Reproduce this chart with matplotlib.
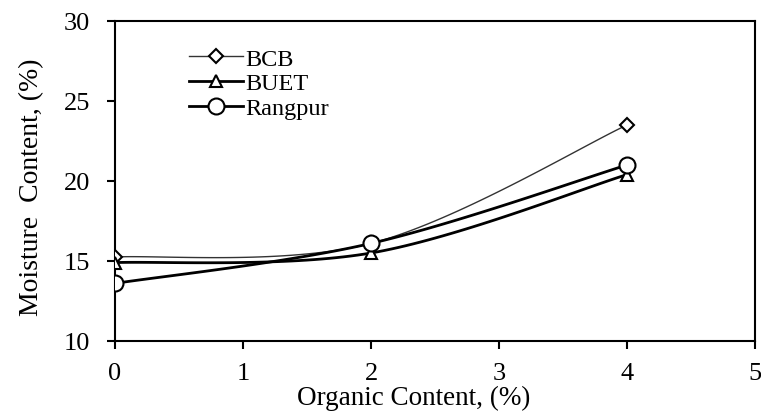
import numpy as np
import matplotlib
matplotlib.use("Agg")
from matplotlib import pyplot as plt

organic = [0, 2, 4]
bcb = [15.25, 16.1, 23.5]
buet = [14.9, 15.5, 20.4]
rangpur = [13.6, 16.1, 21.0]


def smooth(x, y, steps=40):
    # cubic bezier through points, spreadsheet-style smoothing
    x = np.asarray(x, float)
    y = np.asarray(y, float)
    px, py = [], []
    n = len(x)
    for i in range(n - 1):
        x0, y0 = (x[i - 1], y[i - 1]) if i > 0 else (x[i], y[i])
        x3, y3 = (x[i + 2], y[i + 2]) if i + 2 < n else (x[i + 1], y[i + 1])
        c1x = x[i] + (x[i + 1] - x0) / 6
        c1y = y[i] + (y[i + 1] - y0) / 6
        c2x = x[i + 1] - (x3 - x[i]) / 6
        c2y = y[i + 1] - (y3 - y[i]) / 6
        t = np.linspace(0, 1, steps)
        px.extend((1 - t) ** 3 * x[i] + 3 * (1 - t) ** 2 * t * c1x + 3 * (1 - t) * t ** 2 * c2x + t ** 3 * x[i + 1])
        py.extend((1 - t) ** 3 * y[i] + 3 * (1 - t) ** 2 * t * c1y + 3 * (1 - t) * t ** 2 * c2y + t ** 3 * y[i + 1])
    return px, py


plt.rcParams["font.family"] = ["Liberation Serif", "DejaVu Serif"]

fig = plt.figure(figsize=(7.61, 4.14), dpi=100)
ax = fig.add_axes([115 / 761, 72 / 414, 640 / 761, 320 / 414])

series = [
    (bcb, "BCB", "D", 7, 1.0, "#333333"),
    (buet, "BUET", "^", 9, 2.0, "black"),
    (rangpur, "Rangpur", "o", 11.5, 2.0, "black"),
]
handles = []
for vals, name, mk, ms, lw, col in series:
    sx, sy = smooth(organic, vals)
    ax.plot(sx, sy, color=col, lw=lw, zorder=2)
    ax.plot(organic, vals, linestyle="none", marker=mk, ms=ms, mfc="white",
            mec="black", mew=1.5, zorder=3)
    h, = ax.plot([], [], color=col, lw=lw, marker=mk, ms=ms, mfc="white",
                 mec="black", mew=1.5, label=name)
    handles.append(h)

ax.set_xlim(0, 5)
ax.set_ylim(10, 30)
ax.set_xticks(range(0, 6))
ax.set_yticks(range(10, 31, 5))
ax.tick_params(direction="out", length=6, width=1.5, labelsize=19)
ax.tick_params(axis="x", pad=9)
ax.tick_params(axis="y", pad=12)
for sp in ax.spines.values():
    sp.set_linewidth(1.5)

ax.set_xlabel("Organic Content, (%)", fontsize=19.5, labelpad=1, x=0.467)
ax.set_ylabel("Moisture  Content, (%)", fontsize=20, labelpad=14, y=0.484)

ax.legend(handles=handles, loc="upper left", bbox_to_anchor=(0.097, 0.955),
          frameon=False, fontsize=17.5, handlelength=2.2, handletextpad=0.1,
          labelspacing=0.12, borderpad=0)

fig.savefig("out.png", dpi=100)
